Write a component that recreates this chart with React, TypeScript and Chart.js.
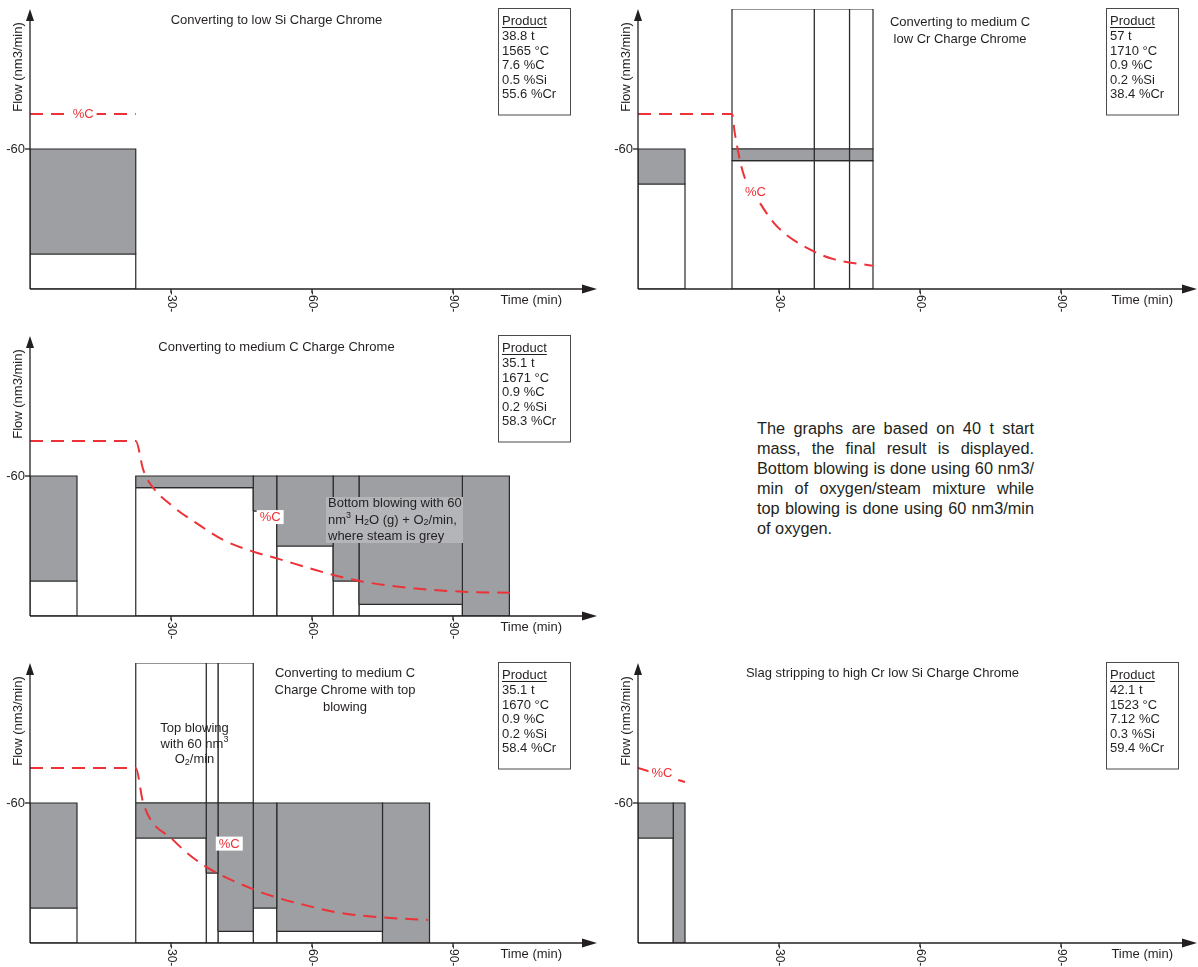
import React, { useEffect, useRef } from "react";
import { Chart, registerables } from "chart.js";

Chart.register(...registerables);

const FONT = '"Liberation Sans", Arial, Helvetica, sans-serif';
const INK = "#231f20";
const GREY = "#9d9fa2";
const EDGE = "#2a2a2a";
const RED = "#ec3237";
const NOTE_BG = "#b3b5b8";

// ---------- shared axis data ----------
const xTickValues = [30, 60, 90];
const xTickLabels = ["-30-", "-60-", "-90-"];
const yTickValues = [60];
const yTickLabels = ["-60"];
const yMax = 120;
const fullFlow = 60;

// ---------- panel 1 ----------
const p1Title = ["Converting to low Si Charge Chrome"];
const p1Start = [0];
const p1End = [22.5];
const p1Split = [15];
const p1TopStart: number[] = [];
const p1TopEnd: number[] = [];
const p1CTime = [0, 22.5];
const p1CVal = [75, 75];
const p1CLabel = [11.3, 75];
const p1Product = ["38.8 t", "1565 °C", "7.6 %C", "0.5 %Si", "55.6 %Cr"];

// ---------- panel 2 ----------
const p2Title = ["Converting to medium C", "low Cr Charge Chrome"];
const p2Start = [0, 20, 37.5, 45];
const p2End = [10, 37.5, 45, 50];
const p2Split = [45, 55, 55, 55];
const p2TopStart = [20, 37.5, 45];
const p2TopEnd = [37.5, 45, 50];
const p2CTime = [0, 20, 20.6, 22.4, 26, 28.8, 31.6, 37.3, 41.6, 50];
const p2CVal = [75, 75, 66.7, 49.6, 36.7, 28.6, 23.2, 16.2, 12.8, 10];
const p2CLabel = [25, 41.7];
const p2Product = ["57 t", "1710 °C", "0.9 %C", "0.2 %Si", "38.4 %Cr"];

// ---------- panel 3 ----------
const p3Title = ["Converting to medium C Charge Chrome"];
const p3Start = [0, 22.5, 47.5, 52.5, 64.5, 70, 92];
const p3End = [10, 47.5, 52.5, 64.5, 70, 92, 102];
const p3Split = [15, 55, 45, 30, 15, 5, 0];
const p3TopStart: number[] = [];
const p3TopEnd: number[] = [];
const p3CTime = [0, 22.5, 24.1, 25.5, 30.5, 35.5, 41.1, 47.5, 52.5, 59.6, 64.5, 70.9, 81.6, 92.2, 102.1];
const p3CVal = [75, 75, 62.6, 56.9, 46.8, 39.7, 32.6, 27.6, 24.7, 20.4, 17.6, 14.7, 11.9, 10.4, 10];
const p3CLabel = [51.1, 42.4];
const p3Product = ["35.1 t", "1671 °C", "0.9 %C", "0.2 %Si", "58.3 %Cr"];
const p3Note: [string, number][][] = [
  [["Bottom blowing with 60", 0]],
  [["nm", 0], ["3", 1], [" H", 0], ["2", -1], ["O (g) + O", 0], ["2", -1], ["/min,", 0]],
  [["where steam is grey", 0]],
];

// ---------- panel 4 ----------
const p4Title = ["Converting to medium C", "Charge Chrome with top", "blowing"];
const p4Start = [0, 22.5, 37.5, 40, 47.5, 52.5, 75];
const p4End = [10, 37.5, 40, 47.5, 52.5, 75, 85];
const p4Split = [15, 45, 30, 5, 15, 5, 0];
const p4TopStart = [22.5, 37.5, 40];
const p4TopEnd = [37.5, 40, 47.5];
const p4CTime = [0, 22.5, 24.1, 30.5, 36.9, 47.4, 52.3, 57.4, 66, 74.8, 84.7];
const p4CVal = [75, 75, 59.9, 44.1, 33.4, 23.1, 19.6, 16.8, 12.9, 11, 9.9];
const p4CLabel = [42.4, 42.6];
const p4Product = ["35.1 t", "1670 °C", "0.9 %C", "0.2 %Si", "58.4 %Cr"];
const p4Note: [string, number][][] = [
  [["Top blowing", 0]],
  [["with 60 nm", 0], ["3", 1]],
  [["O", 0], ["2", -1], ["/min", 0]],
];

// ---------- panel 5 ----------
const p5Title = ["Slag stripping to high Cr low Si Charge Chrome"];
const p5Start = [0, 7.5];
const p5End = [7.5, 10];
const p5Split = [45, 0];
const p5TopStart: number[] = [];
const p5TopEnd: number[] = [];
const p5CTime = [0, 10];
const p5CVal = [75, 69];
const p5CLabel = [5.1, 72.9];
const p5Product = ["42.1 t", "1523 °C", "7.12 %C", "0.3 %Si", "59.4 %Cr"];

const sideText = [
  "The graphs are based on 40 t start",
  "mass, the final result is displayed.",
  "Bottom blowing is done using 60 nm3/",
  "min of oxygen/steam mixture while",
  "top blowing is done using 60 nm3/min",
  "of oxygen.",
];

type Run = [string, number];
type PanelCfg = {
  left: number;
  top: number;
  width: number;
  height: number;
  xMax: number;
  title: string[];
  titleX: number;
  titleY: number[];
  start: number[];
  end: number[];
  split: number[];
  topStart: number[];
  topEnd: number[];
  cTime: number[];
  cVal: number[];
  cLabel: number[];
  product: string[];
  xLabelRight: number;
  note?: { lines: Run[][]; x: number; y: number[]; align: "left" | "center"; bg?: number[] };
};

const PX_PER_MIN = 4.7;

const PANELS: PanelCfg[] = [
  {
    left: 0, top: 0, width: 600, height: 318, xMax: 120,
    title: p1Title, titleX: 276.5, titleY: [20],
    start: p1Start, end: p1End, split: p1Split, topStart: p1TopStart, topEnd: p1TopEnd,
    cTime: p1CTime, cVal: p1CVal, cLabel: p1CLabel, product: p1Product, xLabelRight: 562,
  },
  {
    left: 608, top: 0, width: 590, height: 318, xMax: 118.3,
    title: p2Title, titleX: 352, titleY: [22.5, 39],
    start: p2Start, end: p2End, split: p2Split, topStart: p2TopStart, topEnd: p2TopEnd,
    cTime: p2CTime, cVal: p2CVal, cLabel: p2CLabel, product: p2Product, xLabelRight: 565,
  },
  {
    left: 0, top: 327, width: 600, height: 318, xMax: 120,
    title: p3Title, titleX: 276.5, titleY: [20],
    start: p3Start, end: p3End, split: p3Split, topStart: p3TopStart, topEnd: p3TopEnd,
    cTime: p3CTime, cVal: p3CVal, cLabel: p3CLabel, product: p3Product, xLabelRight: 562,
    note: { lines: p3Note, x: 328, y: [176.5, 193, 209.5], align: "left", bg: [326, 170, 137, 46] },
  },
  {
    left: 0, top: 654, width: 600, height: 313, xMax: 120,
    title: p4Title, titleX: 345, titleY: [19, 36, 53],
    start: p4Start, end: p4End, split: p4Split, topStart: p4TopStart, topEnd: p4TopEnd,
    cTime: p4CTime, cVal: p4CVal, cLabel: p4CLabel, product: p4Product, xLabelRight: 562,
    note: { lines: p4Note, x: 194.5, y: [74, 90, 105.5], align: "center" },
  },
  {
    left: 608, top: 654, width: 590, height: 313, xMax: 118.3,
    title: p5Title, titleX: 274.5, titleY: [19],
    start: p5Start, end: p5End, split: p5Split, topStart: p5TopStart, topEnd: p5TopEnd,
    cTime: p5CTime, cVal: p5CVal, cLabel: p5CLabel, product: p5Product, xLabelRight: 565,
  },
];

function rectPts(x0: number, x1: number, y0: number, y1: number) {
  return [
    { x: x0, y: y0 },
    { x: x0, y: y1 },
    { x: x1, y: y1 },
    { x: x1, y: y0 },
    { x: x0, y: y0 },
  ];
}

function rectDs(pts: { x: number; y: number }[], color: string, order: number) {
  return {
    data: pts,
    backgroundColor: color,
    borderColor: EDGE,
    borderWidth: 1.2,
    fill: "shape",
    pointRadius: 0,
    tension: 0,
    order,
  };
}

function drawRich(ctx: CanvasRenderingContext2D, runs: Run[], x: number, y: number, align: "left" | "center") {
  const big = `13px ${FONT}`;
  const small = `9px ${FONT}`;
  let total = 0;
  for (const [t, m] of runs) {
    ctx.font = m ? small : big;
    total += ctx.measureText(t).width;
  }
  let cx = align === "center" ? x - total / 2 : x;
  ctx.textAlign = "left";
  ctx.textBaseline = "middle";
  for (const [t, m] of runs) {
    ctx.font = m ? small : big;
    ctx.fillText(t, cx, y + (m === 1 ? -4 : m === -1 ? 3 : 0));
    cx += ctx.measureText(t).width;
  }
}

function overlay(cfg: PanelCfg) {
  return {
    id: "overlay",
    afterDatasetsDraw(chart: any) {
      const ctx: CanvasRenderingContext2D = chart.ctx;
      const xs = chart.scales.x;
      const ys = chart.scales.y;
      const X = (v: number) => xs.getPixelForValue(v);
      const Y = (v: number) => ys.getPixelForValue(v);
      const x0 = X(0);
      const y0 = Y(0);
      const yTop = Y(yMax);
      const xRight = chart.chartArea.right;
      ctx.save();

      // annotation note
      if (cfg.note) {
        const n = cfg.note;
        if (n.bg) {
          ctx.fillStyle = NOTE_BG;
          ctx.fillRect(n.bg[0], n.bg[1], n.bg[2], n.bg[3]);
        }
        ctx.fillStyle = INK;
        n.lines.forEach((line, i) => drawRich(ctx, line, n.x, n.y[i], n.align));
      }

      // %C label
      ctx.font = `13px ${FONT}`;
      const lx = X(cfg.cLabel[0]);
      const ly = Y(cfg.cLabel[1]);
      const lw = ctx.measureText("%C").width;
      ctx.fillStyle = "#ffffff";
      ctx.fillRect(lx - lw / 2 - 3, ly - 7, lw + 6, 14);
      ctx.fillStyle = RED;
      ctx.textAlign = "center";
      ctx.textBaseline = "middle";
      ctx.fillText("%C", lx, ly + 0.5);

      // axes
      ctx.strokeStyle = INK;
      ctx.fillStyle = INK;
      ctx.lineWidth = 1.3;
      ctx.beginPath();
      ctx.moveTo(x0, y0);
      ctx.lineTo(x0, yTop + 10);
      ctx.stroke();
      ctx.beginPath();
      ctx.moveTo(x0, yTop);
      ctx.lineTo(x0 - 4, yTop + 12);
      ctx.lineTo(x0 + 4, yTop + 12);
      ctx.closePath();
      ctx.fill();

      const tip = xRight + 3;
      ctx.beginPath();
      ctx.moveTo(x0, y0);
      ctx.lineTo(tip - 12, y0);
      ctx.stroke();
      ctx.beginPath();
      ctx.moveTo(tip, y0);
      ctx.lineTo(tip - 15, y0 - 4.5);
      ctx.lineTo(tip - 15, y0 + 4.5);
      ctx.closePath();
      ctx.fill();

      // y ticks
      ctx.font = `13px ${FONT}`;
      yTickValues.forEach((v, i) => {
        const py = Y(v);
        ctx.beginPath();
        ctx.moveTo(x0 - 5, py);
        ctx.lineTo(x0, py);
        ctx.stroke();
        ctx.textAlign = "right";
        ctx.textBaseline = "middle";
        ctx.fillText(yTickLabels[i], x0 - 5, py);
      });

      // x ticks (rotated clockwise)
      ctx.font = `12px ${FONT}`;
      xTickValues.forEach((v, i) => {
        const px = X(v);
        ctx.beginPath();
        ctx.moveTo(px, y0);
        ctx.lineTo(px, y0 + 4);
        ctx.stroke();
        ctx.save();
        ctx.translate(px, y0 + 2);
        ctx.rotate(Math.PI / 2);
        ctx.textAlign = "left";
        ctx.textBaseline = "middle";
        ctx.fillText(xTickLabels[i], 0, 0);
        ctx.restore();
      });

      // axis titles
      ctx.font = `13px ${FONT}`;
      ctx.textAlign = "right";
      ctx.textBaseline = "middle";
      ctx.fillText("Time (min)", cfg.xLabelRight, y0 + 11.5);
      ctx.save();
      ctx.translate(18, 67);
      ctx.rotate(-Math.PI / 2);
      ctx.textAlign = "center";
      ctx.fillText("Flow (nm3/min)", 0, 0);
      ctx.restore();

      // title
      ctx.textAlign = "center";
      cfg.title.forEach((t, i) => ctx.fillText(t, cfg.titleX, cfg.titleY[i]));

      // product box
      ctx.strokeStyle = "#4a4a4a";
      ctx.lineWidth = 1;
      ctx.strokeRect(498.5, 8.5, 72, 106.5);
      ctx.textAlign = "left";
      ctx.fillStyle = INK;
      ctx.fillText("Product", 502, 21);
      const pw = ctx.measureText("Product").width;
      ctx.strokeStyle = INK;
      ctx.beginPath();
      ctx.moveTo(502, 27.5);
      ctx.lineTo(502 + pw, 27.5);
      ctx.stroke();
      cfg.product.forEach((t, i) => ctx.fillText(t, 502, 36.5 + i * 14.5));

      ctx.restore();
    },
  };
}

function buildConfig(cfg: PanelCfg): any {
  const datasets: any[] = [];
  datasets.push({
    data: cfg.cTime.map((t, i) => ({ x: t, y: cfg.cVal[i] })),
    borderColor: RED,
    borderWidth: 2,
    borderDash: [13, 8],
    fill: false,
    pointRadius: 0,
    cubicInterpolationMode: "monotone",
    order: 0,
  });
  cfg.start.forEach((s, i) => {
    const e = cfg.end[i];
    const sp = cfg.split[i];
    if (sp < fullFlow) datasets.push(rectDs(rectPts(s, e, sp, fullFlow), GREY, 1));
    if (sp > 0) datasets.push(rectDs(rectPts(s, e, 0, sp), "#ffffff", 2));
  });
  cfg.topStart.forEach((s, i) => {
    datasets.push(rectDs(rectPts(s, cfg.topEnd[i], fullFlow, yMax), "#ffffff", 2));
  });
  const right = cfg.width - (30 + cfg.xMax * PX_PER_MIN);
  return {
    type: "line",
    data: { datasets },
    options: {
      animation: false,
      responsive: false,
      devicePixelRatio: 1,
      events: [],
      layout: { padding: { left: 30, top: 9, right, bottom: cfg.height - 289 } },
      scales: {
        x: { type: "linear", min: 0, max: cfg.xMax, display: false },
        y: { type: "linear", min: 0, max: yMax, display: false },
      },
      plugins: { legend: { display: false }, tooltip: { enabled: false } },
    },
    plugins: [overlay(cfg)],
  };
}

function Panel({ cfg }: { cfg: PanelCfg }) {
  const ref = useRef<HTMLCanvasElement>(null);
  useEffect(() => {
    const chart = new Chart(ref.current as HTMLCanvasElement, buildConfig(cfg));
    return () => chart.destroy();
  }, [cfg]);
  return (
    <canvas
      ref={ref}
      width={cfg.width}
      height={cfg.height}
      style={{ position: "absolute", left: cfg.left, top: cfg.top, width: cfg.width, height: cfg.height }}
    />
  );
}

export default function App() {
  return (
    <div
      style={{
        position: "fixed",
        left: 0,
        top: 0,
        width: 1198,
        height: 967,
        background: "#ffffff",
        overflow: "hidden",
      }}
    >
      {PANELS.map((p, i) => (
        <Panel key={i} cfg={p} />
      ))}
      <div
        style={{
          position: "absolute",
          left: 757,
          top: 418,
          width: 277,
          fontFamily: FONT,
          fontSize: 16.3,
          lineHeight: "20px",
          color: INK,
        }}
      >
        {sideText.map((t, i) => (
          <div
            key={i}
            style={{
              whiteSpace: "nowrap",
              textAlign: i < sideText.length - 1 ? "justify" : "left",
              textAlignLast: i < sideText.length - 1 ? "justify" : "left",
            } as any}
          >
            {t}
          </div>
        ))}
      </div>
    </div>
  );
}
